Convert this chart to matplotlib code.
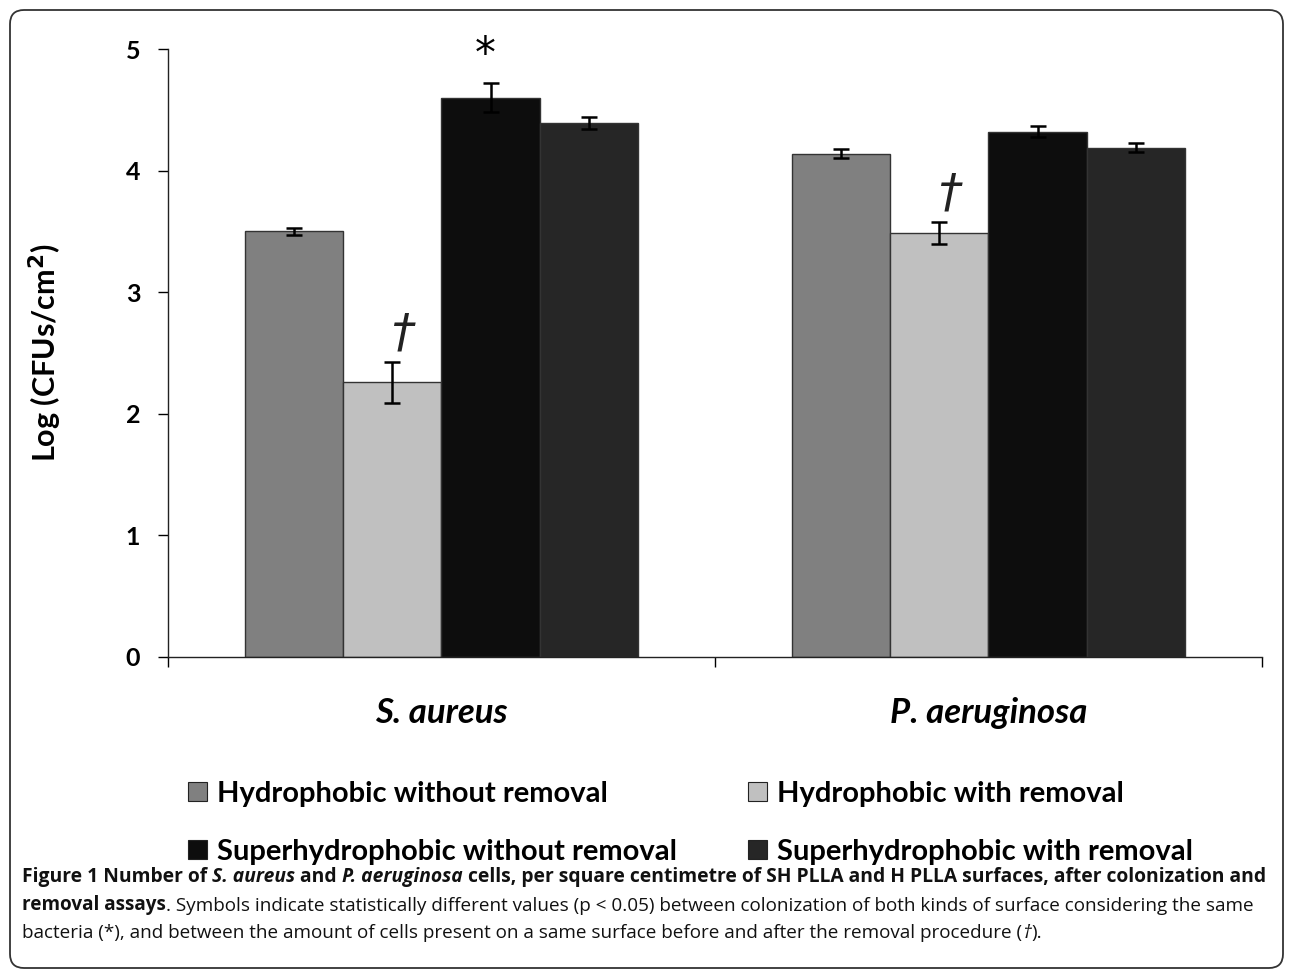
import numpy as np
import matplotlib
matplotlib.use("Agg")
import matplotlib.pyplot as plt
from matplotlib.patches import Patch, FancyBboxPatch
from matplotlib.transforms import IdentityTransform

# ─── Data ─────────────────────────────────────────────────────────────────────

bacteria = ["S. aureus", "P. aeruginosa"]
series = ["Hydrophobic without removal", "Hydrophobic with removal",
          "Superhydrophobic without removal", "Superhydrophobic with removal"]
colors = ["#808080", "#c0c0c0", "#0d0d0d", "#262626"]

values = [
    [3.50, 4.14],   # hydrophobic without removal
    [2.26, 3.49],   # hydrophobic with removal
    [4.60, 4.32],   # superhydrophobic without removal
    [4.39, 4.19],   # superhydrophobic with removal
]
errors = [
    [0.03, 0.04],
    [0.17, 0.09],
    [0.12, 0.045],
    [0.05, 0.035],
]

# significance marks: (series index, bacteria index, symbol)
marks = [(2, 0, "*"), (1, 0, "\u2020"), (1, 1, "\u2020")]

yticks = [0, 1, 2, 3, 4, 5]

# ─── Figure ───────────────────────────────────────────────────────────────────

plt.rcParams["font.family"] = ["Lato", "DejaVu Sans"]

fig = plt.figure(figsize=(12.93, 9.71), dpi=100)
ax = fig.add_axes([0.1299, 0.3234, 0.8461, 0.6261])

x = np.arange(len(bacteria))
width = 0.18
offsets = (np.arange(len(series)) - 1.5) * width

for i, name in enumerate(series):
    ax.bar(x + offsets[i], values[i], width, color=colors[i], edgecolor="#333333",
           linewidth=1.0, label=name, zorder=2)
    ax.errorbar(x + offsets[i], values[i], yerr=errors[i], fmt="none", ecolor="black",
                elinewidth=1.8, capsize=6, capthick=1.8, zorder=3)

for s, b, sym in marks:
    top = values[s][b] + errors[s][b]
    if sym == "*":
        ax.text(b + offsets[s] - 0.01, top + 0.06, sym, ha="center", va="bottom",
                fontsize=30, family="DejaVu Sans")
    else:
        ax.text(b + offsets[s] + 0.02, top + 0.04, sym, ha="center", va="bottom",
                fontsize=34, style="italic", family="DejaVu Sans", color="#222222")

ax.set_xlim(-0.5, 1.5)
ax.set_ylim(0, 5)
ax.set_yticks(yticks)
ax.set_yticklabels([str(t) for t in yticks], fontsize=18, fontweight="bold")
ax.tick_params(axis="y", direction="out", length=7, width=1.0, pad=13)

ax.set_xticks([-0.5, 0.5, 1.5])
ax.set_xticklabels([])
ax.tick_params(axis="x", which="major", direction="out", length=7, width=1.0)
ax.set_xticks(x, minor=True)
ax.set_xticklabels(bacteria, minor=True, fontsize=25, fontweight="bold", style="italic")
ax.tick_params(axis="x", which="minor", length=0, pad=29)

for side in ("top", "right"):
    ax.spines[side].set_visible(False)
for side in ("left", "bottom"):
    ax.spines[side].set_linewidth(1.0)
    ax.spines[side].set_color("#222222")

ax.set_ylabel("Log (CFUs/cm$^\\mathbf{2}$)", fontsize=22, fontweight="bold")
ax.yaxis.set_label_coords(-0.095, 0.5)

# legend: two rows, filled row-wise
handles = [Patch(facecolor=c, edgecolor="#222222", linewidth=0.8) for c in colors]
order = [0, 2, 1, 3]
fig.legend([handles[k] for k in order], [series[k] for k in order], ncol=2,
           loc="upper left", bbox_to_anchor=(188 / 1293, 1 - 781 / 971),
           frameon=False, prop={"weight": "bold", "size": 21},
           handlelength=0.64, handleheight=0.64, handletextpad=0.34,
           columnspacing=2.45, labelspacing=1.1, borderpad=0, borderaxespad=0)

# ─── Caption ──────────────────────────────────────────────────────────────────

caption = [
    [("Figure 1 Number of ", "bold", "normal"), ("S. aureus", "bold", "italic"),
     (" and ", "bold", "normal"), ("P. aeruginosa", "bold", "italic"),
     (" cells, per square centimetre of SH PLLA and H PLLA surfaces, after colonization and",
      "bold", "normal")],
    [("removal assays", "bold", "normal"),
     (". Symbols indicate statistically different values (p < 0.05) between colonization of "
      "both kinds of surface considering the same", "normal", "normal")],
    [("bacteria (*), and between the amount of cells present on a same surface before and "
      "after the removal procedure (", "normal", "normal"), ("\u2020", "normal", "italic"),
     (").", "normal", "normal")],
]
baselines = [882, 910, 938]
cap_font = ["Open Sans", "DejaVu Sans"]
cap_sizes = [13.85, 13.6, 13.6]

for line, yb, fs in zip(caption, baselines, cap_sizes):
    last = None
    for txt, wt, st in line:
        kw = dict(fontsize=fs, fontweight=wt, style=st, family=cap_font, color="#111111")
        if last is None:
            last = fig.text(22 / 1293, 1 - yb / 971, txt, ha="left", va="baseline", **kw)
        else:
            last = ax.annotate(txt, xy=(1, 0), xycoords=last, ha="left", va="bottom",
                               annotation_clip=False, **kw)

# rounded frame around the whole figure
frame = FancyBboxPatch((10, 3), 1273, 958, boxstyle="round,pad=0,rounding_size=14",
                       transform=IdentityTransform(), fill=False, edgecolor="#333333",
                       linewidth=1.3)
fig.add_artist(frame)

fig.savefig("out.png", dpi=100)
